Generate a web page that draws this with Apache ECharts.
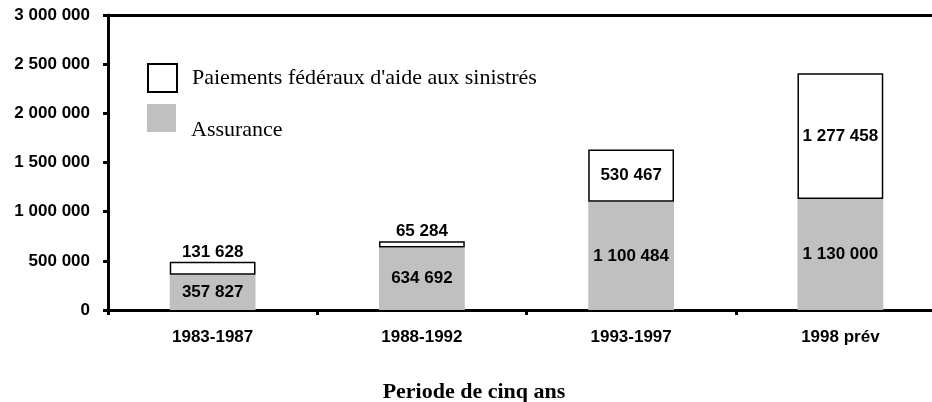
<!DOCTYPE html>
<html><head><meta charset="utf-8">
<script src="https://cdn.jsdelivr.net/npm/echarts@6/dist/echarts.min.js"></script>
<style>html,body{margin:0;padding:0;background:#fff}#c{width:932px;height:402px}</style>
</head><body><div id="c"></div>
<script>
const categories = ['1983-1987', '1988-1992', '1993-1997', '1998 prév'];
const assurance = [357827, 634692, 1100484, 1130000];
const federal = [131628, 65284, 530467, 1277458];
const federalLabelPos = ['top', 'top', 'inside', 'inside'];
const yTicks = [0, 500000, 1000000, 1500000, 2000000, 2500000, 3000000];
const seriesNames = ["Paiements fédéraux d'aide aux sinistrés", 'Assurance'];

const fmt = v => String(v).replace(/\B(?=(\d{3})+(?!\d))/g, ' ');
const sans = 'Liberation Sans, Arial, sans-serif';
const serif = 'Liberation Serif, Times New Roman, serif';

const chart = echarts.init(document.getElementById('c'));
chart.setOption({
  animation: false,
  grid: { left: 108, top: 15, width: 837, height: 295, outerBoundsMode: 'none', containLabel: false },
  legend: [
    { data: [seriesNames[0]], left: 147, top: 63, padding: 0, itemWidth: 29, itemHeight: 28, itemGap: 14,
      icon: 'rect', selectedMode: false,
      textStyle: { fontFamily: serif, fontSize: 22, color: '#000', padding: [0, 0, 0, 10] } },
    { data: [seriesNames[1]], left: 147, top: 94, padding: 0, itemWidth: 29, itemHeight: 28, itemGap: 14,
      icon: 'rect', selectedMode: false,
      formatter: n => '\n' + n,
      textStyle: { fontFamily: serif, fontSize: 22, lineHeight: 24, color: '#000', padding: [0, 0, 0, 10] } }
  ],
  xAxis: [
    { type: 'category', data: categories, position: 'bottom',
      axisLine: { lineStyle: { color: '#000', width: 3 } },
      axisTick: { show: true, inside: false, length: 5, lineStyle: { color: '#000', width: 3 } },
      axisLabel: { margin: 19, color: '#000', fontFamily: sans, fontWeight: 'bold', fontSize: 17 } },
    { type: 'category', data: categories, position: 'top',
      axisLine: { lineStyle: { color: '#000', width: 3 } },
      axisTick: { show: false }, axisLabel: { show: false } }
  ],
  yAxis: {
    type: 'value', min: yTicks[0], max: yTicks[yTicks.length - 1], interval: yTicks[1] - yTicks[0],
    axisLine: { show: true, lineStyle: { color: '#000', width: 3 } },
    axisTick: { show: true, length: 5, lineStyle: { color: '#000', width: 3 } },
    splitLine: { show: false },
    axisLabel: { margin: 18, color: '#000', fontFamily: sans, fontWeight: 'bold', fontSize: 17, formatter: fmt }
  },
  graphic: [
    { type: 'text', x: 474, y: 392,
      style: { text: 'Periode de cinq ans', fontFamily: serif, fontWeight: 'bold', fontSize: 22, fill: '#000',
        textAlign: 'center', textVerticalAlign: 'middle' } }
  ],
  series: [
    { name: seriesNames[1], type: 'bar', stack: 's', data: assurance, barCategoryGap: '59%',
      itemStyle: { color: '#c0c0c0' },
      label: { show: true, position: 'inside', color: '#000', fontFamily: sans, fontWeight: 'bold', fontSize: 17,
        formatter: p => fmt(p.value) } },
    { name: seriesNames[0], type: 'bar', stack: 's', barCategoryGap: '59%',
      data: federal.map((v, i) => ({ value: v, label: { position: federalLabelPos[i], distance: 1 } })),
      itemStyle: { color: '#fff', borderColor: '#000', borderWidth: 1.5 },
      label: { show: true, color: '#000', fontFamily: sans, fontWeight: 'bold', fontSize: 17,
        formatter: p => fmt(p.value) } }
  ]
});
</script></body></html>
